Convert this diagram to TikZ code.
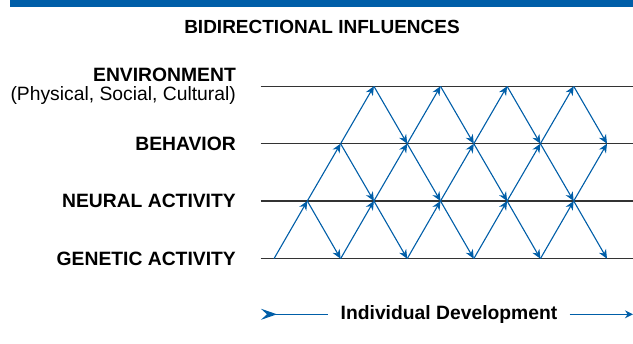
\documentclass[tikz,border=0pt]{standalone}
\usepackage{fontspec}
\setmainfont{Liberation Sans}
\usetikzlibrary{arrows.meta}
\usetikzlibrary{positioning}
\definecolor{devblue}{RGB}{0,94,168}
\tikzstyle{lvlnode} = [anchor=east, inner sep=0pt, align=right, font=\bfseries\fontsize{19.3}{19}\selectfont]
\tikzstyle{lvlline} = [line width=1.2pt, draw=black!80]
\tikzstyle{infl} = [draw=devblue, line width=1.1pt, -{Stealth[length=9pt,width=8pt]}]
\tikzstyle{devline} = [draw=devblue, line width=1.2pt]

\begin{document}
\begin{tikzpicture}[x=1pt, y=1pt]
  \useasboundingbox (0,0) rectangle (633,344);
  \fill[devblue] (10,337.3) rectangle (633,344);
  \node[font=\bfseries\fontsize{19}{21}\selectfont] (title) at (322,317) {BIDIRECTIONAL INFLUENCES};

  % level labels and lines
  \node[lvlnode] (env) at (236,257.7) {ENVIRONMENT\\{\mdseries(Physical, Social, Cultural)}};
  \node[lvlnode] (beh) at (236,200.3) {BEHAVIOR};
  \node[lvlnode] (neu) at (236,143) {NEURAL ACTIVITY};
  \node[lvlnode] (gen) at (236,85.3) {GENETIC ACTIVITY};
  \foreach \lvl/\y in {env/257.7, beh/200.3, neu/143, gen/85.3} {
    \coordinate (\lvl L) at (260.7,\y);
    \coordinate (\lvl R) at (633,\y);
    \draw[lvlline] (\lvl L) -- (\lvl R);
  }

  % lattice points
  \foreach \p in {0,2,...,10} \coordinate (g\p) at (274+33.3*\p,85.3);
  \foreach \p in {1,3,...,9} \coordinate (n\p) at (274+33.3*\p,143);
  \foreach \p in {2,4,...,10} \coordinate (b\p) at (274+33.3*\p,200.3);
  \foreach \p in {3,5,7,9} \coordinate (e\p) at (274+33.3*\p,257.7);

  % influences
  \foreach \p [evaluate=\p as \q using int(\p+1)] in {0,2,...,8} \draw[infl] (g\p) -- (n\q);
  \foreach \p [evaluate=\p as \q using int(\p+1)] in {1,3,...,9} {
    \draw[infl] (n\p) -- (b\q);
    \draw[infl] (n\p) -- (g\q);
  }
  \foreach \p [evaluate=\p as \q using int(\p+1)] in {2,4,...,8} {
    \draw[infl] (b\p) -- (e\q);
    \draw[infl] (b\p) -- (n\q);
  }
  \foreach \p [evaluate=\p as \q using int(\p+1)] in {3,5,7,9} \draw[infl] (e\p) -- (b\q);

  % time axis
  \node[font=\bfseries\fontsize{19.3}{21}\selectfont, inner xsep=12pt] (dev) at (449,29.7) {Individual Development};
  \coordinate (devL) at (261,29.7);
  \coordinate (devR) at (633,29.7);
  \draw[devline, {Stealth[reversed,length=16pt,width=11pt,inset=6pt]}-] (devL) -- (dev);
  \draw[devline, -{Stealth[length=8pt,width=8pt]}] (dev) -- (devR);
\end{tikzpicture}
\end{document}
